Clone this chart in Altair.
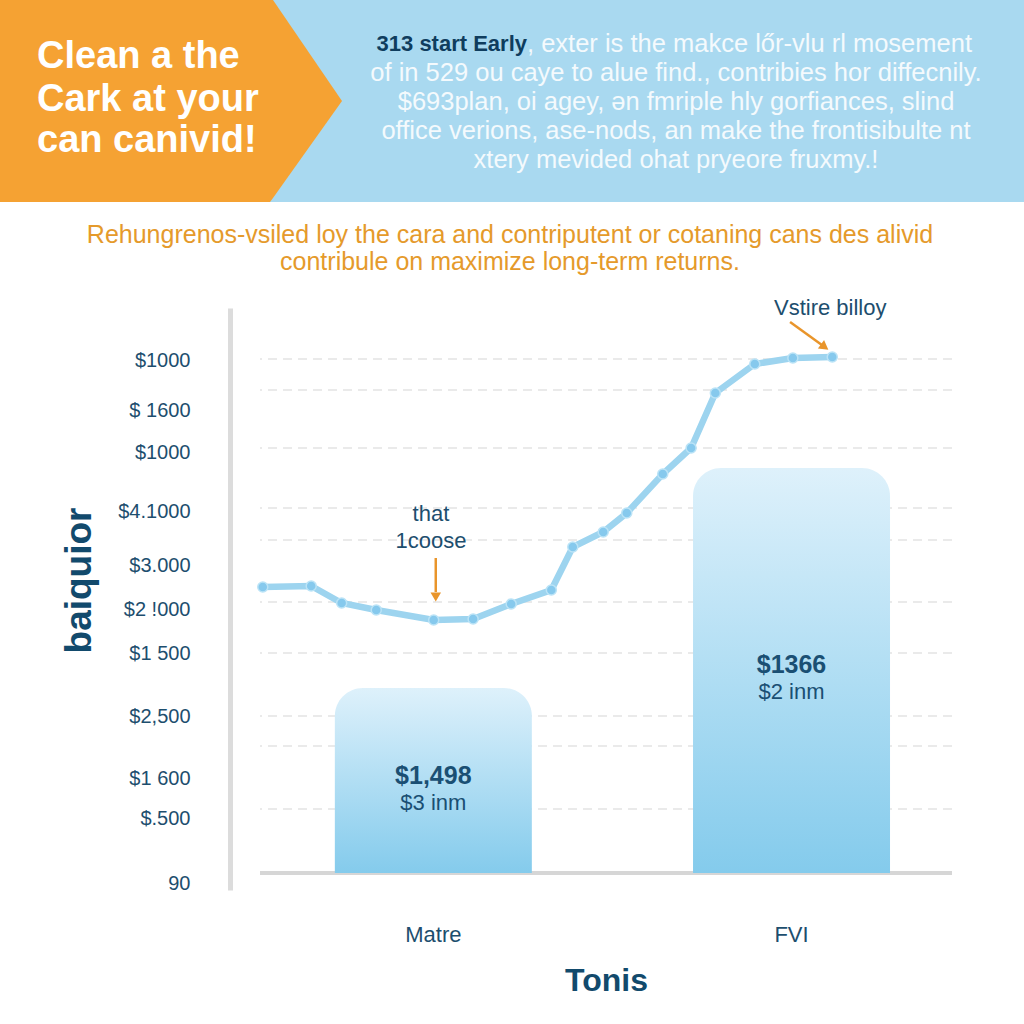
import altair as alt
import pandas as pd

# ---------------- data ----------------
categories = ["Matre", "FVI"]
bar_values = [370, 810]
bar_value_labels = ["$1,498", "$1366"]
bar_sub_labels = ["$3 inm", "$2 inm"]
bar_label_y = [194, 416]
bar_sub_y = [140, 362]

line_t = [0.4, 7.4, 11.8, 16.8, 25.1, 30.8, 36.3, 42.1, 45.2, 49.6, 53.0, 58.2, 62.3, 65.8, 71.5, 77.0, 82.7]
line_v = [572, 574, 540, 526, 506, 508, 538, 566, 652, 682, 720, 798, 850, 960, 1018, 1030, 1032]

y_tick_values = [1026, 926, 842, 724, 616, 528, 440, 314, 190, 110, -20]
y_tick_labels = ["$1000", "$ 1600", "$1000", "$4.1000", "$3.000", "$2 !000",
                 "$1 500", "$2,500", "$1 600", "$.500", "90"]
grid_values = [1028, 966, 850, 730, 666, 542, 440, 314, 254, 128]

note_texts = ["that", "1coose", "Vstire billoy"]
note_t = [24.7, 24.7, 82.4]
note_v = [718, 664, 1130]

arrow_t = [25.4, 76.6]
arrow_t2 = [25.4, 81.2]
arrow_v = [630, 1102]
arrow_v2 = [562, 1056]
head_t = [25.4, 81.6]
head_v = [552, 1052]
head_shape = ["triangle-down", "triangle-right"]
head_angle = [0, 36]

header_left_lines = ["Clean a the", "Cark at your", "can canivid!"]
header_left_y = [57, 100, 141]
header_bold = "313 start Early"
header_lines = [
    ", exter is the makce lőr-vlu rl mosement",
    "of in 529 ou caye to alue find., contribies hor diffecnily.",
    "$693plan, oi agey, ən fmriple hly gorfiances, slind",
    "office verions, ase-nods, an make the frontisibulte nt",
    "xtery mevided ohat pryeore fruxmy.!",
]
header_line_y = [44, 73, 102, 131, 160]
subtitle_lines = [
    "Rehungrenos-vsiled loy the cara and contriputent or cotaning cans des alivid",
    "contribule on maximize long-term returns.",
]
subtitle_y = [235, 262]

banner_x = [0, 270, 273, 342]
banner_top = [0, 0, 0, 101]
banner_bottom = [202, 202, 198, 101]

FONT = "Liberation Sans"
DARK = "#1D4E6E"

# ---------------- scales ----------------
yscale = alt.Scale(domain=[-34, 1130], nice=False, zero=False)
xband = alt.Scale(domain=categories, paddingInner=0.45, paddingOuter=0.191, align=0.547)
tscale = alt.Scale(domain=[0, 100], nice=False, zero=False)
pxx = alt.Scale(domain=[260, 952], nice=False, zero=False)
pxy = alt.Scale(domain=[308, 890], nice=False, zero=False, reverse=True)

label_expr = "".join(f"datum.value == {v} ? '{l}' : " for v, l in zip(y_tick_values, y_tick_labels)) + "''"

yaxis = alt.Axis(values=y_tick_values, labelExpr=label_expr, title="baiquior", orient="left",
                 offset=30, domain=True, domainColor="#DCDCDC", domainWidth=5, ticks=False,
                 tickSize=0, grid=False, labelPadding=40, labelFont=FONT, labelFontSize=20,
                 labelColor=DARK, labelOverlap=False, titleFont=FONT, titleFontSize=37,
                 titleFontWeight="bold", titleColor="#124A6C", titlePadding=19, titleY=272,
                 zindex=2)
xaxis = alt.Axis(orient="bottom", title="Tonis", domain=False, ticks=False, labelPadding=34,
                 labelFont=FONT, labelFontSize=22, labelColor=DARK, labelAngle=0,
                 titleFont=FONT, titleFontSize=32, titleFontWeight="bold", titleColor="#124A6C",
                 titlePadding=20, zindex=2)

# ---------------- layer A: bars ----------------
grid_df = pd.DataFrame({"g": grid_values})
grid = alt.Chart(grid_df).mark_rule(color="#E3E3E3", strokeDash=[9, 6], strokeWidth=1.5).encode(
    y=alt.Y("g:Q", scale=yscale, axis=yaxis))

base_df = pd.DataFrame({"g": [0]})
baseline = alt.Chart(base_df).mark_rule(color="#D6D6D6", strokeWidth=4).encode(
    y=alt.Y("g:Q", scale=yscale, axis=yaxis))

bars_df = pd.DataFrame({"cat": categories, "value": bar_values, "base": [0, 0],
                        "lab": bar_value_labels, "sub": bar_sub_labels,
                        "ly": bar_label_y, "sy": bar_sub_y})
grad = alt.Gradient(gradient="linear",
                    stops=[alt.GradientStop(color="#DEF1FB", offset=0),
                           alt.GradientStop(color="#84CBEC", offset=1)],
                    x1=1, x2=1, y1=0, y2=1)
bars = alt.Chart(bars_df).mark_bar(cornerRadiusTopLeft=28, cornerRadiusTopRight=28, color=grad).encode(
    x=alt.X("cat:N", scale=xband, axis=xaxis, sort=categories),
    y=alt.Y("value:Q", scale=yscale, axis=yaxis),
    y2="base:Q")
bar_lab = alt.Chart(bars_df).mark_text(font=FONT, fontSize=25, fontWeight="bold", color="#1A4F73").encode(
    x=alt.X("cat:N", scale=xband, axis=xaxis, sort=categories),
    y=alt.Y("ly:Q", scale=yscale, axis=yaxis), text="lab:N")
bar_sub = alt.Chart(bars_df).mark_text(font=FONT, fontSize=22, color="#1A4F73").encode(
    x=alt.X("cat:N", scale=xband, axis=xaxis, sort=categories),
    y=alt.Y("sy:Q", scale=yscale, axis=yaxis), text="sub:N")
layerA = alt.layer(grid, baseline, bars, bar_lab, bar_sub)

# ---------------- layer B: line ----------------
line_df = pd.DataFrame({"t": line_t, "v": line_v})
line = alt.Chart(line_df).mark_line(color="#9DD4EF", strokeWidth=6.5).encode(
    x=alt.X("t:Q", scale=tscale, axis=None), y=alt.Y("v:Q", scale=yscale, axis=None))
pts = alt.Chart(line_df).mark_circle(size=100, color="#86C9ED", opacity=1, stroke="#BBE3F6",
                                     strokeWidth=1.5).encode(
    x=alt.X("t:Q", scale=tscale, axis=None), y=alt.Y("v:Q", scale=yscale, axis=None))
notes_df = pd.DataFrame({"t": note_t, "v": note_v, "txt": note_texts})
notes = alt.Chart(notes_df).mark_text(font=FONT, fontSize=22, color=DARK).encode(
    x=alt.X("t:Q", scale=tscale, axis=None), y=alt.Y("v:Q", scale=yscale, axis=None), text="txt:N")
arr_df = pd.DataFrame({"t": arrow_t, "t2": arrow_t2, "v": arrow_v, "v2": arrow_v2})
arrows = alt.Chart(arr_df).mark_rule(color="#E9952B", strokeWidth=2.5).encode(
    x=alt.X("t:Q", scale=tscale, axis=None), x2="t2:Q",
    y=alt.Y("v:Q", scale=yscale, axis=None), y2="v2:Q")
head_df = pd.DataFrame({"t": head_t, "v": head_v, "shape": head_shape, "ang": head_angle})
heads = alt.Chart(head_df).mark_point(filled=True, size=110, color="#E9952B", opacity=1).encode(
    x=alt.X("t:Q", scale=tscale, axis=None), y=alt.Y("v:Q", scale=yscale, axis=None),
    shape=alt.Shape("shape:N", scale=None), angle=alt.Angle("ang:Q", scale=None))
layerB = alt.layer(line, pts, notes, arrows, heads)

# ---------------- layer C: page decorations ----------------
def px(ch, xf="x:Q", yf="y:Q"):
    return ch.encode(x=alt.X(xf, scale=pxx, axis=None), y=alt.Y(yf, scale=pxy, axis=None))

bg_df = pd.DataFrame({"x": [0], "x2": [1024], "y": [0], "y2": [1024]})
bg = px(alt.Chart(bg_df).mark_rect(color="white")).encode(x2="x2:Q", y2="y2:Q")
band_df = pd.DataFrame({"x": [0], "x2": [1024], "y": [0], "y2": [202]})
band = px(alt.Chart(band_df).mark_rect(color="#A9D9F0")).encode(x2="x2:Q", y2="y2:Q")
poly_df = pd.DataFrame({"x": banner_x, "y": banner_top, "y2": banner_bottom})
poly = px(alt.Chart(poly_df).mark_area(color="#F5A233", opacity=1)).encode(y2="y2:Q")

hl_df = pd.DataFrame({"x": [37] * 3, "y": header_left_y, "txt": header_left_lines})
hl = px(alt.Chart(hl_df).mark_text(font=FONT, fontSize=38, fontWeight="bold", color="white",
                                   align="left", baseline="middle")).encode(text="txt:N")
hb_df = pd.DataFrame({"x": [527], "y": [header_line_y[0]], "txt": [header_bold]})
hb = px(alt.Chart(hb_df).mark_text(font=FONT, fontSize=22, fontWeight="bold", color="#0F3D5E",
                                   align="right", baseline="middle")).encode(text="txt:N")
h1_df = pd.DataFrame({"x": [527], "y": [header_line_y[0]], "txt": [header_lines[0]]})
h1 = px(alt.Chart(h1_df).mark_text(font=FONT, fontSize=25.5, color="#F4FAFD",
                                   align="left", baseline="middle")).encode(text="txt:N")
hr_df = pd.DataFrame({"x": [676] * 4, "y": header_line_y[1:], "txt": header_lines[1:]})
hr = px(alt.Chart(hr_df).mark_text(font=FONT, fontSize=25.5, color="#F4FAFD",
                                   align="center", baseline="middle")).encode(text="txt:N")
st_df = pd.DataFrame({"x": [510] * 2, "y": subtitle_y, "txt": subtitle_lines})
st = px(alt.Chart(st_df).mark_text(font=FONT, fontSize=25, color="#E59A2B",
                                   align="center", baseline="middle")).encode(text="txt:N")
layerC = alt.layer(bg, band, poly, hl, hb, h1, hr, st)

chart = (alt.layer(layerC, layerA, layerB)
         .resolve_scale(x="independent", y="independent")
         .properties(width=692, height=582, padding=0)
         .configure(background="white")
         .configure_view(stroke=None))

chart.save("out.html", embed_options={"renderer": "svg", "actions": False})
